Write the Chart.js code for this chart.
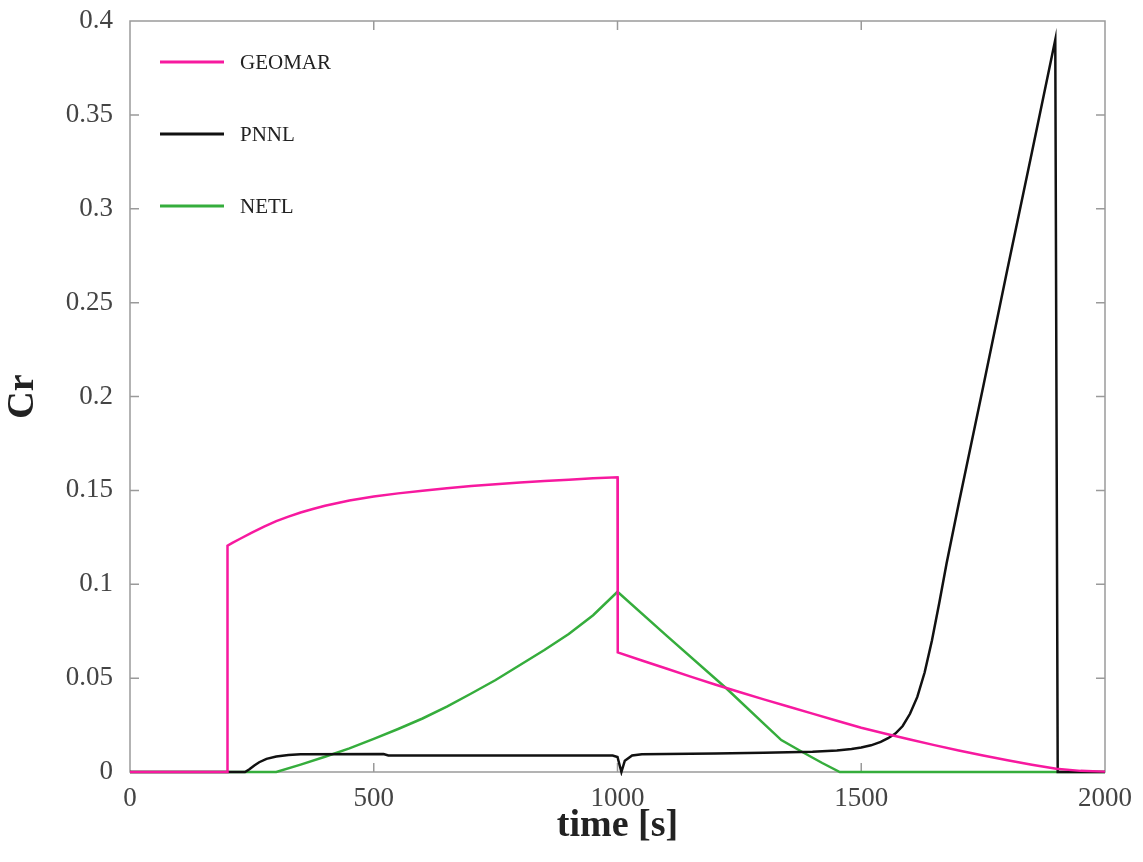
<!DOCTYPE html>
<html>
<head>
<meta charset="utf-8">
<title>Cr - time</title>
<script src="https://cdn.jsdelivr.net/npm/chart.js@4.4.1/dist/chart.umd.min.js"></script>
<style>
    html, body { margin: 0; padding: 0; background: #fff; }
    #wrap { width: 1143px; height: 862px; }
</style>
</head>
<body>
<div id="wrap"><canvas id="crChart" width="1143" height="862"></canvas></div>
<script>
// Série GEOMAR
const geomarTime = [0, 199, 200, 210, 225, 250, 275, 300, 325, 350, 375, 400, 450, 500, 550, 600, 650, 700,
    750, 800, 850, 900, 950, 1000,
    1000.5, 1050, 1100, 1150, 1200, 1250, 1300, 1350, 1400, 1450, 1500, 1550, 1600, 1650, 1700,
    1750, 1800, 1850, 1900, 1950, 2000];
const geomarCr = [0, 0, 0.1205, 0.1220, 0.1241, 0.1275, 0.1307, 0.1336, 0.1360, 0.1382, 0.1401, 0.1418, 0.1446, 0.1467, 0.1484, 0.1498, 0.1511, 0.1523,
    0.1533, 0.1542, 0.1550, 0.1557, 0.1564, 0.1570,
    0.0637, 0.0594, 0.0551, 0.0508, 0.0466, 0.0426, 0.0387, 0.0349, 0.0311, 0.0273, 0.0236, 0.0204, 0.0173, 0.0143, 0.0115,
    0.0088, 0.0063, 0.0039, 0.0017, 0.0006, 0.0002];

// Série PNNL
const pnnlTime = [0, 236, 245, 255, 265, 280, 300, 325, 350, 520, 530, 990, 1000, 1004, 1008, 1015, 1030, 1050,
    1200, 1300, 1400, 1450, 1480, 1500, 1520, 1540, 1555, 1570, 1585, 1600, 1615, 1630, 1645, 1660, 1675,
    1700, 1750, 1800, 1850, 1898, 1903, 2000];
const pnnlCr = [0, 0, 0.0015, 0.0035, 0.0052, 0.0070, 0.0083, 0.0091, 0.0095, 0.0096, 0.0088, 0.0088, 0.0080, 0.0040, 0, 0.0060, 0.0088, 0.0095,
    0.0098, 0.0102, 0.0108, 0.0114, 0.0122, 0.0130, 0.0142, 0.0160, 0.0180, 0.0205, 0.0245, 0.0310, 0.0400, 0.0530, 0.0700, 0.0900, 0.1110,
    0.1430, 0.2050, 0.2680, 0.3300, 0.3900, 0, 0];

// Série NETL
const netlTime = [0, 300, 350, 400, 450, 500, 550, 600, 650, 700, 750, 800, 850, 900, 950, 1000,
    1100, 1223, 1300, 1336, 1380, 1420, 1456, 2000];
const netlCr = [0, 0, 0.0039, 0.0081, 0.0126, 0.0176, 0.0229, 0.0285, 0.0348, 0.0418, 0.0490, 0.0570, 0.0650, 0.0735, 0.0835, 0.0960,
    0.0728, 0.0446, 0.0258, 0.0170, 0.0105, 0.0048, 0, 0];

const serieLabels = ['GEOMAR', 'PNNL', 'NETL'];
const serieCores = ['#f7199f', '#111111', '#35ad3c'];

const xTicks = [0, 500, 1000, 1500, 2000];
const yTicks = [0, 0.05, 0.1, 0.15, 0.2, 0.25, 0.3, 0.35, 0.4];

const fonteSerif = "'Liberation Serif', 'DejaVu Serif', serif";

function montarPontos(tempos, valores) {
    return tempos.map((t, i) => ({ x: t, y: valores[i] }));
}

// Moldura com ticks para dentro nos quatro lados
const molduraPlugin = {
    id: 'moldura',
    beforeDatasetsDraw(chart) {
        const { ctx, chartArea: a, scales } = chart;
        const len = 9;
        ctx.save();
        ctx.strokeStyle = '#9a9a9a';
        ctx.lineWidth = 1.5;
        ctx.strokeRect(a.left, a.top, a.right - a.left, a.bottom - a.top);
        ctx.beginPath();
        scales.x.ticks.forEach(t => {
            const px = scales.x.getPixelForValue(t.value);
            if (px <= a.left + 1 || px >= a.right - 1) return;
            ctx.moveTo(px, a.bottom); ctx.lineTo(px, a.bottom - len);
            ctx.moveTo(px, a.top); ctx.lineTo(px, a.top + len);
        });
        scales.y.ticks.forEach(t => {
            const py = scales.y.getPixelForValue(t.value);
            if (py <= a.top + 1 || py >= a.bottom - 1) return;
            ctx.moveTo(a.left, py); ctx.lineTo(a.left + len, py);
            ctx.moveTo(a.right, py); ctx.lineTo(a.right - len, py);
        });
        ctx.stroke();
        ctx.restore();
    }
};

// Legenda desenhada dentro da área do gráfico
const legendaPlugin = {
    id: 'legendaInterna',
    afterDraw(chart) {
        const { ctx, chartArea: a } = chart;
        ctx.save();
        ctx.font = "21px " + fonteSerif;
        ctx.textBaseline = 'middle';
        chart.data.datasets.forEach((ds, i) => {
            const y = a.top + 41 + i * 72;
            ctx.strokeStyle = ds.borderColor;
            ctx.lineWidth = 3;
            ctx.beginPath();
            ctx.moveTo(a.left + 30, y);
            ctx.lineTo(a.left + 94, y);
            ctx.stroke();
            ctx.fillStyle = '#222';
            ctx.fillText(ds.label, a.left + 110, y + 1);
        });
        ctx.restore();
    }
};

const dados = [
    montarPontos(geomarTime, geomarCr),
    montarPontos(pnnlTime, pnnlCr),
    montarPontos(netlTime, netlCr)
];

new Chart(document.getElementById('crChart'), {
    type: 'line',
    data: {
        datasets: serieLabels.map((label, i) => ({
            label: label,
            data: dados[i],
            borderColor: serieCores[i],
            backgroundColor: serieCores[i],
            borderWidth: 2.5,
            pointRadius: 0,
            tension: 0,
            clip: 4
        }))
    },
    options: {
        responsive: false,
        animation: false,
        events: [],
        layout: { padding: { top: 21, right: 37, left: 0, bottom: 0 } },
        plugins: {
            legend: { display: false },
            tooltip: { enabled: false }
        },
        scales: {
            x: {
                type: 'linear',
                min: 0,
                max: 2000,
                afterBuildTicks: s => { s.ticks = xTicks.map(v => ({ value: v })); },
                afterFit: s => { s.height = 90; },
                grid: { display: false, drawTicks: false },
                border: { display: false },
                ticks: {
                    padding: 11,
                    color: '#444',
                    font: { family: fonteSerif, size: 27 },
                    callback: v => String(v)
                },
                title: {
                    display: true,
                    text: 'time [s]',
                    color: '#222',
                    padding: { top: 0, bottom: 13 },
                    font: { family: fonteSerif, size: 38, weight: 'bold' }
                }
            },
            y: {
                type: 'linear',
                min: 0,
                max: 0.4,
                afterBuildTicks: s => { s.ticks = yTicks.map(v => ({ value: v })); },
                afterFit: s => {
                    s.width = 130;
                    s.paddingTop = 0;
                    s.paddingBottom = 0;
                },
                grid: { display: false, drawTicks: false },
                border: { display: false },
                ticks: {
                    padding: 17,
                    color: '#444',
                    font: { family: fonteSerif, size: 27 },
                    callback: v => String(+v.toFixed(2))
                },
                title: {
                    display: true,
                    text: 'Cr',
                    color: '#222',
                    padding: { top: 0, bottom: 0 },
                    font: { family: fonteSerif, size: 38, weight: 'bold' }
                }
            }
        }
    },
    plugins: [molduraPlugin, legendaPlugin]
});
</script>
</body>
</html>
